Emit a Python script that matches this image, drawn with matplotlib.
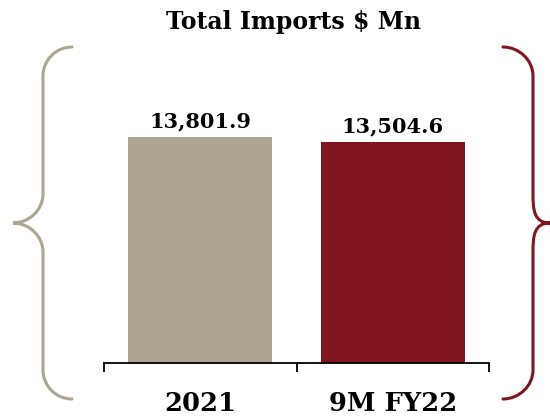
import matplotlib.pyplot as plt
import matplotlib.patches as mpatches
from matplotlib.path import Path

# data
categories = ['2021', '9M FY22']
values = [13801.9, 13504.6]
value_labels = ['13,801.9', '13,504.6']
title = 'Total Imports $ Mn'

tan = '#ADA591'
red = '#801520'
colors = [tan, red]

plt.rcParams['font.family'] = ['DejaVu Serif']
plt.rcParams['font.weight'] = 'bold'

W, H = 550, 419
fig = plt.figure(figsize=(W / 100, H / 100), dpi=100)

# axes placed in pixel terms of the original picture
left, right, top, bottom = 104, 489, 80, 363
ax = fig.add_axes([left / W, (H - bottom) / H, (right - left) / W, (bottom - top) / H])

x = range(len(categories))
ax.bar(x, values, width=0.75, color=colors)
ax.set_xlim(-0.5, 1.5)
ax.set_ylim(0, 17300)

for xi, v, lab in zip(x, values, value_labels):
    ax.annotate(lab, (xi, v), xytext=(0, 4), textcoords='offset points',
                ha='center', va='bottom', fontsize=15, fontweight='bold')

ax.set_xticks(list(x))
ax.set_xticklabels(categories, fontsize=18.5, fontweight='bold')
ax.set_xticks([-0.5, 0.5, 1.5], minor=True)
ax.tick_params(axis='x', which='major', length=0, pad=20)
ax.tick_params(axis='x', which='minor', length=6.5, width=1.3, color='black')
ax.set_yticks([])
for s in ['top', 'left', 'right']:
    ax.spines[s].set_visible(False)
ax.spines['bottom'].set_linewidth(1.3)

fig.text(294 / W, 1 - 22 / H, title, ha='center', va='center',
         fontsize=17, fontweight='bold')


# curly braces drawn in figure pixel coordinates (y measured from top)
def brace(xe, xl, xt, y0, ym, y1, r, color):
    k = 0.552 * r
    s = 1 if xe > xl else -1  # direction from line to end
    pts = [
        (xe, y0),
        (xe - s * k, y0), (xl, y0 + r - k), (xl, y0 + r),
        (xl, ym - r),
        (xl, ym - r + k), (xt + s * k, ym), (xt, ym),
        (xt + s * k, ym), (xl, ym + r - k), (xl, ym + r),
        (xl, y1 - r),
        (xl, y1 - r + k), (xe - s * k, y1), (xe, y1),
    ]
    codes = [Path.MOVETO,
             Path.CURVE4, Path.CURVE4, Path.CURVE4,
             Path.LINETO,
             Path.CURVE4, Path.CURVE4, Path.CURVE4,
             Path.CURVE4, Path.CURVE4, Path.CURVE4,
             Path.LINETO,
             Path.CURVE4, Path.CURVE4, Path.CURVE4]
    verts = [(px / W, 1 - py / H) for px, py in pts]
    patch = mpatches.PathPatch(Path(verts, codes), facecolor='none',
                               edgecolor=color, lw=2.2,
                               transform=fig.transFigure, capstyle='round')
    fig.add_artist(patch)


brace(72, 43, 13, 47, 223, 399, 29, tan)
brace(503, 533, 550, 47, 223, 399, 29, red)

fig.savefig('out.png', dpi=100)
